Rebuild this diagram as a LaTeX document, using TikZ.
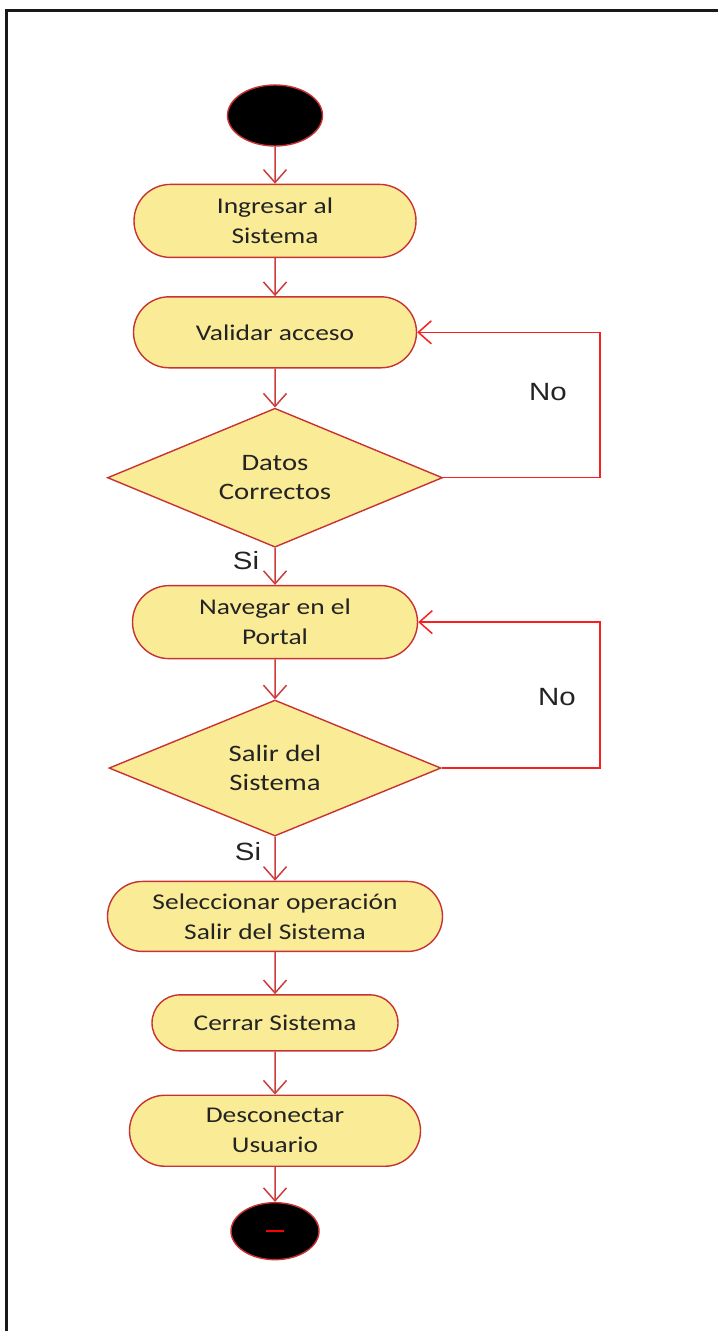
\documentclass[tikz,border=0pt]{standalone}
\usepackage{fontspec}
\setmainfont{Carlito}[FakeStretch=1.22]
\newfontfamily\lblfont{Liberation Sans}[FakeStretch=1.18]
\usepackage{tikz}
\usetikzlibrary{shapes, arrows.meta, positioning}
\definecolor{actfill}{RGB}{250,236,150}
\definecolor{actline}{RGB}{200,50,50}
\definecolor{flowred}{RGB}{205,60,60}
\definecolor{loopred}{RGB}{250,30,30}
\definecolor{txtgray}{RGB}{35,35,35}

\begin{document}
\begin{tikzpicture}[node distance=0.76cm,
    activity/.style={rounded rectangle, draw=actline, fill=actfill, line width=0.8pt, text=txtgray, align=center, font=\fontsize{12.8}{17}\selectfont, inner sep=0pt},
    decision/.style={diamond, aspect=2.4, draw=actline, fill=actfill, line width=0.8pt, text=txtgray, align=center, font=\fontsize{13.4}{16.5}\selectfont, inner sep=0pt},
    dot/.style={ellipse, draw=actline, fill=black, line width=0.8pt},
    flow/.style={draw=flowred, line width=0.85pt, -{Straight Barb[length=0.26cm, width=0.46cm]}},
    back/.style={flow, draw=loopred},
    lbl/.style={font=\lblfont\fontsize{14.2}{17}\selectfont, text=txtgray}]

                \useasboundingbox (0,0) rectangle (14.34,-26.62);
                \draw[line width=0.05cm, black!90] (0.13,-27) -- (0.13,-0.21) -- (15,-0.21);

                % Nodes
                \node (start) [dot, minimum width=1.9cm, minimum height=1.22cm] at (5.5,-2.31) {};
                \node (ingresar) [below=0.74cm of start, activity, minimum width=5.64cm, minimum height=1.46cm] {Ingresar al\\Sistema};
                \node (validar) [below=of ingresar, activity, minimum width=5.66cm, minimum height=1.42cm] {Validar acceso};
                \node (datos) [below=0.78cm of validar, decision, minimum width=6.7cm, minimum height=2.78cm] {Datos\\Correctos};
                \node (navegar) [below=0.74cm of datos, activity, minimum width=5.7cm, minimum height=1.46cm] {Navegar en el\\Portal};
                \node (salir) [below=0.8cm of navegar, decision, minimum width=6.64cm, minimum height=2.72cm] {Salir del\\Sistema};
                \node (selec) [below=0.88cm of salir, activity, minimum width=6.7cm, minimum height=1.4cm] {Seleccionar operación\\Salir del Sistema};
                \node (cerrar) [below=0.84cm of selec, activity, minimum width=4.92cm, minimum height=1.12cm] {Cerrar Sistema};
                \node (descon) [below=0.86cm of cerrar, activity, minimum width=5.82cm, minimum height=1.42cm] {Desconectar\\Usuario};
                \node (fin) [below=0.7cm of descon, dot, minimum width=1.76cm, minimum height=1.14cm] {};
                \draw[draw=red, line width=1.2pt] ([xshift=-0.18cm]fin.center) -- ([xshift=0.18cm]fin.center);

                % Labels
                \node (no1) [lbl] at (10.96,-7.84) {No};
                \node (no2) [lbl] at (11.14,-13.94) {No};
                \node (si1) [lbl] at (4.92,-11.22) {Si};
                \node (si2) [lbl] at (4.96,-17.04) {Si};
                \coordinate (rail) at (12,0);

                % Edges
                \draw[flow] (start) -- (ingresar);
                \draw[flow] (ingresar) -- (validar);
                \draw[flow] (validar) -- (datos);
                \draw[flow] (datos) -- (navegar);
                \draw[flow] (navegar) -- (salir);
                \draw[flow] (salir) -- (selec);
                \draw[flow] (selec) -- (cerrar);
                \draw[flow] (cerrar) -- (descon);
                \draw[flow] (descon) -- (fin);
                \draw[back] (datos.east) -- (datos.east -| rail) |- (validar.east);
                \draw[back] (salir.east) -- (salir.east -| rail) |- (navegar.east);
            \end{tikzpicture}
\end{document}
